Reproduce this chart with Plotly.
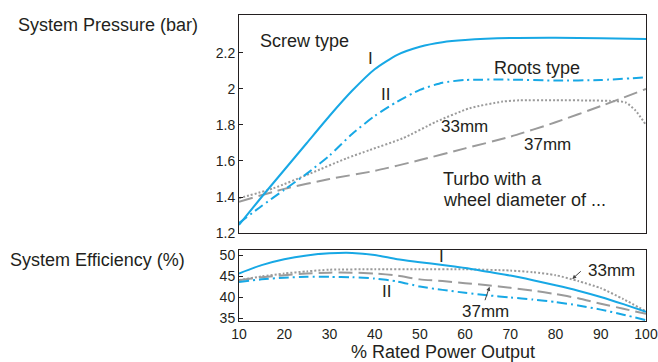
import plotly.graph_objects as go

FONT = "Liberation Sans, Arial, sans-serif"
BLUE = "#17a8e5"
GRAY = "#9b9b9b"
TXT = "#231f20"

# ---------------- data: system pressure (bar) ----------------
p_x = [10, 15, 20, 25, 30, 35, 40, 45, 50, 55, 60, 70, 80, 90, 100]
p_screw = [1.245, 1.40, 1.55, 1.70, 1.85, 1.99, 2.11, 2.19, 2.235, 2.26, 2.272, 2.283, 2.285, 2.282, 2.278]
p_roots = [1.255, 1.35, 1.44, 1.53, 1.63, 1.75, 1.85, 1.93, 1.995, 2.035, 2.05, 2.052, 2.047, 2.05, 2.065]

p33_x = [10, 17.6, 25.7, 33.8, 38.9, 46.2, 53.6, 61, 68.3, 72, 80, 88, 92, 95.5, 97.7, 100]
p33 = [1.393, 1.448, 1.53, 1.615, 1.661, 1.726, 1.818, 1.893, 1.93, 1.937, 1.938, 1.936, 1.934, 1.925, 1.88, 1.80]

p37_x = [10, 20, 30, 40, 50, 60, 70, 80, 90, 100]
p37 = [1.374, 1.445, 1.50, 1.545, 1.605, 1.67, 1.735, 1.815, 1.905, 2.0]

# ---------------- data: system efficiency (%) ----------------
e_x = [10, 15, 20, 25, 30, 35, 40, 45, 50, 55, 60, 65, 70, 75, 80, 85, 90, 95, 100]
e_screw = [45.6, 47.6, 49.0, 49.9, 50.4, 50.5, 50.0, 49.0, 48.3, 47.6, 46.9, 46.0, 45.1, 44.0, 42.8, 41.5, 40.0, 38.3, 36.5]
e_37 = [44.0, 44.7, 45.2, 45.6, 45.8, 45.8, 45.6, 45.1, 44.2, 43.8, 43.3, 42.8, 42.2, 41.5, 40.7, 39.7, 38.4, 37.2, 36.0]
e_roots = [43.6, 44.2, 44.6, 44.8, 44.8, 44.7, 44.4, 43.7, 42.5, 41.7, 41.0, 40.4, 39.9, 39.4, 38.8, 38.0, 37.0, 35.8, 34.5]

e33_x = [10, 15, 20, 25, 30, 40, 50, 60, 70, 75, 80, 85, 90, 95, 100]
e_33 = [44.0, 44.9, 45.6, 46.1, 46.5, 46.6, 46.6, 46.6, 46.3, 45.9, 45.2, 43.8, 42.1, 39.5, 36.6]

x_ticks = [10, 20, 30, 40, 50, 60, 70, 80, 90, 100]
p_ticks = [1.2, 1.4, 1.6, 1.8, 2.0, 2.2]
p_ticktext = ["1.2", "1.4", "1.6", "1.8", "2", "2.2"]
e_ticks = [35, 40, 45, 50]

fig = go.Figure()

def add(x, y, dash, color, axis_top):
    fig.add_trace(go.Scatter(
        x=x, y=y, mode="lines",
        line=dict(color=color, width=2, dash=dash, shape="spline", smoothing=0.6),
        xaxis="x2" if axis_top else "x", yaxis="y2" if axis_top else "y",
        showlegend=False, hoverinfo="skip", cliponaxis=True))

# top panel
add(p37_x, p37, "14px,6px", GRAY, True)
add(p33_x, p33, "2px,2px", GRAY, True)
add(p_x, p_roots, "10px,4px,2px,4px", BLUE, True)
add(p_x, p_screw, "solid", BLUE, True)
# bottom panel
add(e_x, e_37, "14px,6px", GRAY, False)
add(e33_x, e_33, "2px,2px", GRAY, False)
add(e_x, e_roots, "10px,4px,2px,4px", BLUE, False)
add(e_x, e_screw, "solid", BLUE, False)

axis_common = dict(showline=True, linecolor=TXT, linewidth=1, mirror=True,
                   showgrid=False, zeroline=False,
                   tickfont=dict(family=FONT, size=14, color=TXT))

# plot area in pixels: x 239..646, y 15..321
L, R, T, B = 239, 646, 15, 321
def px(xp):
    return (xp - L) / (R - L)
def py(yp):
    return (B - yp) / (B - T)

fig.update_layout(
    width=658, height=362,
    margin=dict(l=L, r=658 - R, t=T, b=362 - B),
    paper_bgcolor="white", plot_bgcolor="white",
    font=dict(family=FONT, color=TXT),
    xaxis=dict(domain=[0, 1], range=[10, 100], anchor="y", tickvals=x_ticks,
               ticks="", automargin=False, ticklabeloverflow="allow", **axis_common),
    yaxis=dict(domain=[0, py(250)], range=[34.29, 51.19], tickvals=e_ticks,
               ticks="inside", ticklen=4, tickcolor=TXT, anchor="x", **axis_common),
    xaxis2=dict(domain=[0, 1], range=[10, 100], anchor="y2", showticklabels=False,
                ticks="", **axis_common),
    yaxis2=dict(domain=[py(233), 1], range=[1.2, 2.411], tickvals=p_ticks, ticktext=p_ticktext,
                ticks="inside", ticklen=4, tickcolor=TXT, anchor="x2", **axis_common),
)

ann = []
def text(x, y, s, size=18, xanchor="left", xref="x2", yref="y2"):
    ann.append(dict(x=x, y=y, xref=xref, yref=yref, text=s, showarrow=False,
                    xanchor=xanchor, yanchor="middle",
                    font=dict(family=FONT, size=size, color=TXT)))

# axis titles
text(px(16), py(25), "System Pressure (bar)", 18, "left", "paper", "paper")
text(px(8), py(260), "System Efficiency (%)", 18, "left", "paper", "paper")
text(0.5, py(352), "% Rated Power Output", 18, "center", "paper", "paper")

# top panel labels
text(14.2, 2.267, "Screw type")
text(39.1, 2.172, "I", 17, "center")
text(42.4, 1.972, "II", 17, "center")
text(66.0, 2.117, "Roots type")
text(54.3, 1.789, "33mm", 17)
text(72.6, 1.689, "37mm", 17)
text(54.6, 1.50, "Turbo with a")
text(54.6, 1.383, "wheel diameter of ...")

# bottom panel labels
text(54.7, 49.6, "I", 17, "center", "x", "y")
text(42.6, 41.3, "II", 17, "center", "x", "y")
text(86.7, 46.4, "33mm", 17, "left", "x", "y")
text(64.6, 36.5, "37mm", 17, "center", "x", "y")

# arrows
for tip_x, tip_y, ax, ay in [(83.7, 44.3, 10, -9), (65.4, 42.45, -5, 15)]:
    ann.append(dict(x=tip_x, y=tip_y, xref="x", yref="y", ax=ax, ay=ay, text="",
                    showarrow=True, arrowhead=2, arrowsize=0.8, arrowwidth=1,
                    arrowcolor="#444"))

fig.update_layout(annotations=ann)
fig.write_html("out.html")
